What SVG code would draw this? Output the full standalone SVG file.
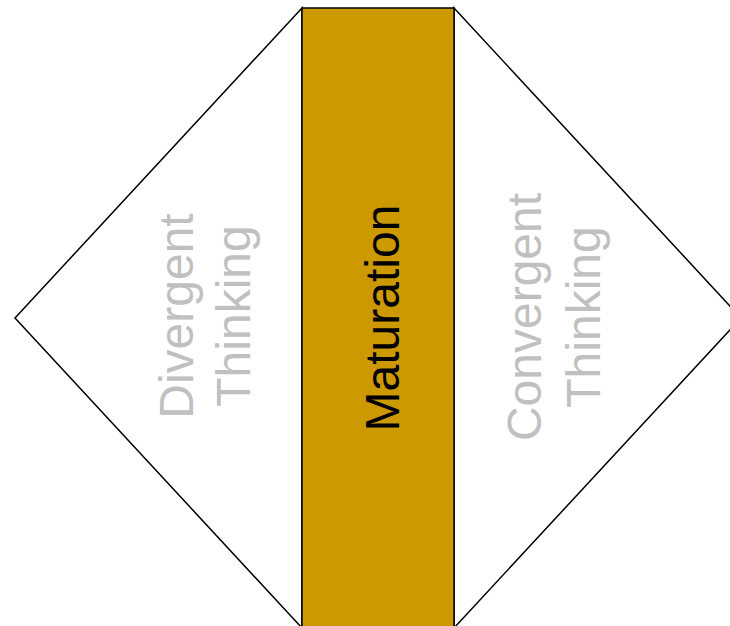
<svg xmlns="http://www.w3.org/2000/svg" width="730" height="626" viewBox="0 0 730 626">
<style>
.shape{stroke:#000;stroke-width:1.5;stroke-linejoin:miter}
.lbl{font-family:"Liberation Sans",Arial,sans-serif;font-size:48px;text-anchor:middle}
.gray{fill:#c0c0c0}
</style>
<rect width="730" height="626" fill="#fff"/>
<g id="divergent">
<polygon class="shape" fill="#fff" points="302,8 15,318 302,628"/>
<text class="lbl gray" transform="translate(193,316) rotate(-90)">Divergent</text>
<text class="lbl gray" transform="translate(250,316) rotate(-90)">Thinking</text>
</g>
<g id="convergent">
<polygon class="shape" fill="#fff" points="454,8 741,318 454,628"/>
<text class="lbl gray" transform="translate(541,317) rotate(-90)">Convergent</text>
<text class="lbl gray" transform="translate(600,317) rotate(-90)">Thinking</text>
</g>
<g id="maturation">
<rect class="shape" fill="#cc9900" x="302" y="8" width="152" height="622"/>
<text class="lbl" fill="#000" transform="translate(399,318) rotate(-90)">Maturation</text>
</g>
<g id="connectors"/>
</svg>
